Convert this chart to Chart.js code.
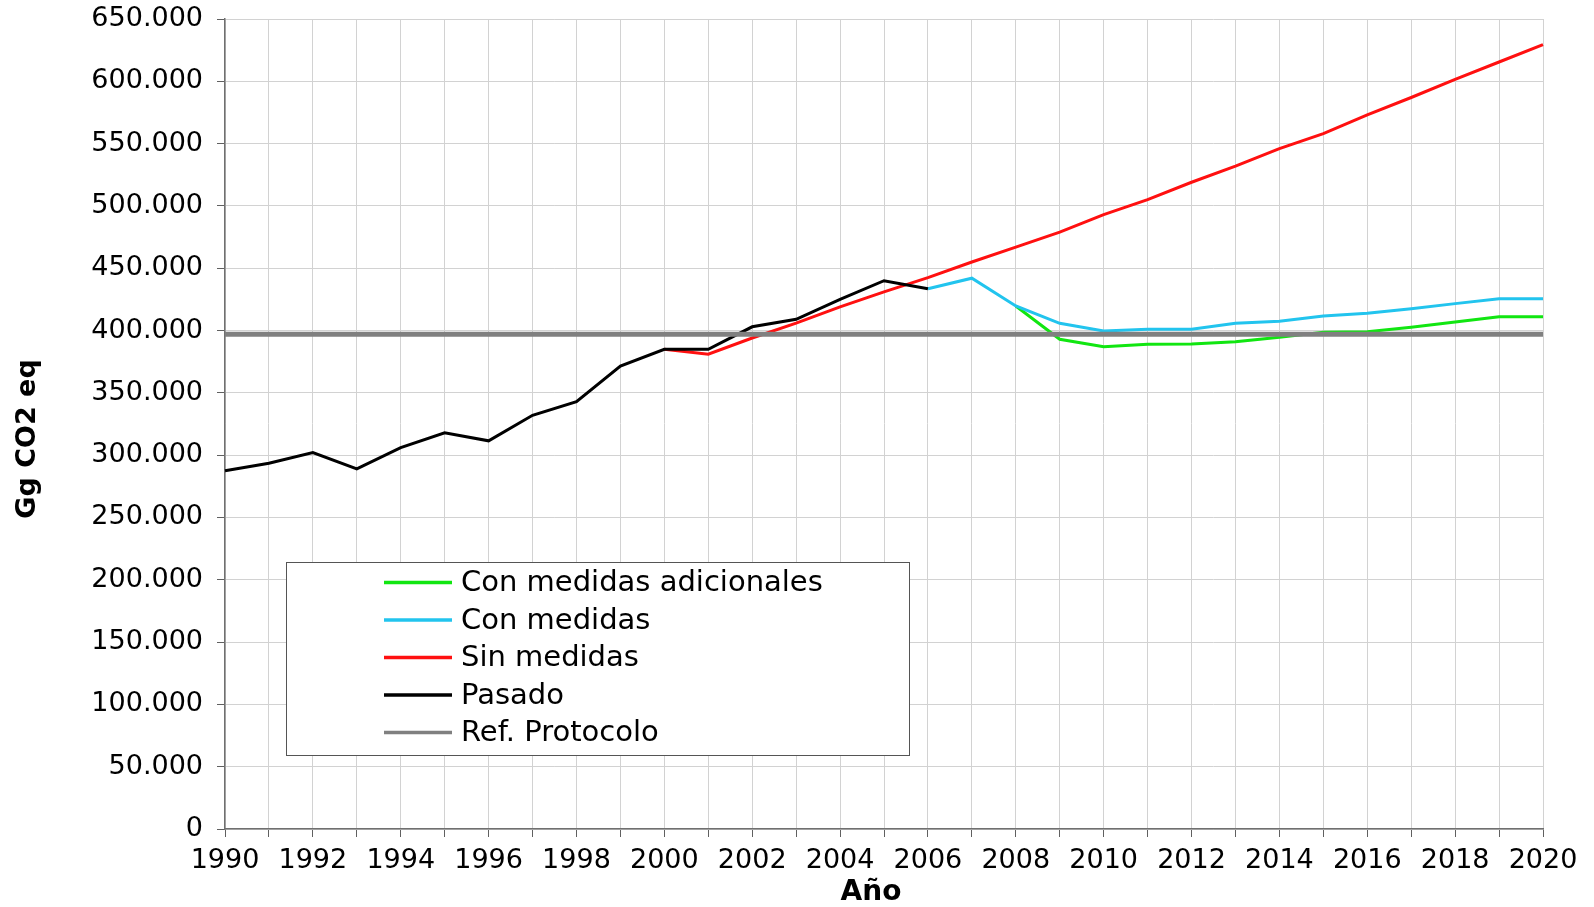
<!DOCTYPE html>
<html lang="es">
<head>
  <meta charset="UTF-8">
  <title>Emisiones GEI</title>
  <script src="https://cdn.jsdelivr.net/npm/chart.js"></script>
  <style>
    body { margin: 0; background: #fff; }
  </style>
</head>
<body>
<canvas id="co2Chart" width="1594" height="907"></canvas>

<script>
  // data (Gg CO2 eq)
  var years = ['1990','1991','1992','1993','1994','1995','1996','1997','1998','1999',
               '2000','2001','2002','2003','2004','2005','2006','2007','2008','2009',
               '2010','2011','2012','2013','2014','2015','2016','2017','2018','2019','2020'];

  var pasado = [287500, 293500, 302000, 289000, 306000, 318000, 311500, 332000, 343000, 371500,
                385000, 385000, 403000, 409000, 425000, 440000, 433500, null, null, null,
                null, null, null, null, null, null, null, null, null, null, null];

  var sinMedidas = [null, null, null, null, null, null, null, null, null, null,
                    385000, 381000, 394000, 406000, 419000, 431000, 442500, 455000, 467000, 479000,
                    493000, 505000, 519000, 532000, 546000, 558000, 573000, 587000, 601500, 615500, 629500];

  var conMedidas = [null, null, null, null, null, null, null, null, null, null,
                    null, null, null, null, null, null, 433500, 442000, 419700, 405800,
                    399600, 401000, 401000, 405800, 407400, 411700, 413800, 417500, 421600, 425600, 425600];

  var conMedidasAdicionales = [null, null, null, null, null, null, null, null, null, null,
                    null, null, null, null, null, null, null, null, 419700, 393000,
                    387000, 389000, 389200, 391000, 394600, 398600, 399000, 402600, 406900, 411000, 411000];

  var refProtocolo = [397000, 397000, 397000, 397000, 397000, 397000, 397000, 397000, 397000, 397000,
                      397000, 397000, 397000, 397000, 397000, 397000, 397000, 397000, 397000, 397000,
                      397000, 397000, 397000, 397000, 397000, 397000, 397000, 397000, 397000, 397000, 397000];

  var xTitle = 'Año';
  var yTitle = 'Gg CO2 eq';

  Chart.defaults.font.family = '"DejaVu Sans", Verdana, sans-serif';
  Chart.defaults.color = '#000';

  function miles(v) {
    return String(v).replace(/\B(?=(\d{3})+(?!\d))/g, '.');
  }

  // legend box drawn inside the plot, like the original
  var boxLegend = {
    id: 'boxLegend',
    afterDatasetsDraw: function(chart) {
      var ctx = chart.ctx;
      var a = chart.chartArea;
      var x = a.left + 61, y = a.top + 543, w = 623, h = 193;
      ctx.save();
      ctx.fillStyle = '#fff';
      ctx.fillRect(x, y, w, h);
      ctx.strokeStyle = '#555';
      ctx.lineWidth = 1;
      ctx.strokeRect(x + 0.5, y + 0.5, w, h);
      ctx.font = '29px "DejaVu Sans", Verdana, sans-serif';
      ctx.textBaseline = 'middle';
      chart.data.datasets.forEach(function(ds, i) {
        var ry = y + 20.5 + i * 37.5;
        ctx.strokeStyle = ds.borderColor;
        ctx.lineWidth = 3.5;
        ctx.beginPath();
        ctx.moveTo(x + 98, ry);
        ctx.lineTo(x + 166, ry);
        ctx.stroke();
        ctx.fillStyle = '#000';
        ctx.fillText(ds.label, x + 175, ry + 1);
      });
      ctx.restore();
    }
  };

  // axis titles, placed where the original has them (a bit off-centre)
  var axisTitles = {
    id: 'axisTitles',
    afterDraw: function(chart) {
      var ctx = chart.ctx;
      var a = chart.chartArea;
      ctx.save();
      ctx.fillStyle = '#000';
      ctx.font = 'bold 28px "DejaVu Sans", Verdana, sans-serif';
      ctx.textAlign = 'center';
      ctx.textBaseline = 'middle';
      ctx.fillText(xTitle, (a.left + a.right) / 2 - 13, chart.height - 14);
      ctx.font = 'bold 27px "DejaVu Sans", Verdana, sans-serif';
      ctx.translate(28, (a.top + a.bottom) / 2 + 15);
      ctx.rotate(-Math.PI / 2);
      ctx.fillText(yTitle, 0, 0);
      ctx.restore();
    }
  };

  var ctx = document.getElementById('co2Chart').getContext('2d');
  new Chart(ctx, {
    type: 'line',
    data: {
      labels: years,
      datasets: [
        { label: 'Con medidas adicionales', data: conMedidasAdicionales, borderColor: '#11e611', borderWidth: 3, order: 4 },
        { label: 'Con medidas', data: conMedidas, borderColor: '#22c4ee', borderWidth: 3, order: 3 },
        { label: 'Sin medidas', data: sinMedidas, borderColor: '#ff1010', borderWidth: 3, order: 2 },
        { label: 'Pasado', data: pasado, borderColor: '#000000', borderWidth: 3, order: 1 },
        { label: 'Ref. Protocolo', data: refProtocolo, borderColor: '#808080', borderWidth: 5, order: 0 }
      ]
    },
    options: {
      responsive: false,
      animation: false,
      elements: { point: { radius: 0 }, line: { tension: 0 } },
      layout: { padding: { top: 19, right: 51, left: 0, bottom: 0 } },
      plugins: {
        legend: { display: false },
        tooltip: { enabled: false }
      },
      scales: {
        x: {
          offset: false,
          grid: { color: '#d2d2d2', tickColor: '#606060', tickLength: 8 },
          border: { color: '#707070', width: 1.5 },
          ticks: {
            autoSkip: false,
            maxRotation: 0,
            padding: 8,
            font: { size: 27 },
            callback: function(val, i) { return i % 2 === 0 ? years[i] : ''; }
          },
          afterFit: function(scale) { scale.height = 78; }
        },
        y: {
          min: 0,
          max: 650000,
          grid: { color: '#d2d2d2', tickColor: '#606060', tickLength: 8 },
          border: { color: '#707070', width: 1.5 },
          ticks: {
            stepSize: 50000,
            padding: 14,
            font: { size: 27 },
            callback: function(v) { return miles(v); }
          },
          afterFit: function(scale) {
            scale.width = 225;
            scale.paddingTop = 16;
            scale.paddingBottom = 16;
          }
        }
      }
    },
    plugins: [boxLegend, axisTitles]
  });
</script>
</body>
</html>
